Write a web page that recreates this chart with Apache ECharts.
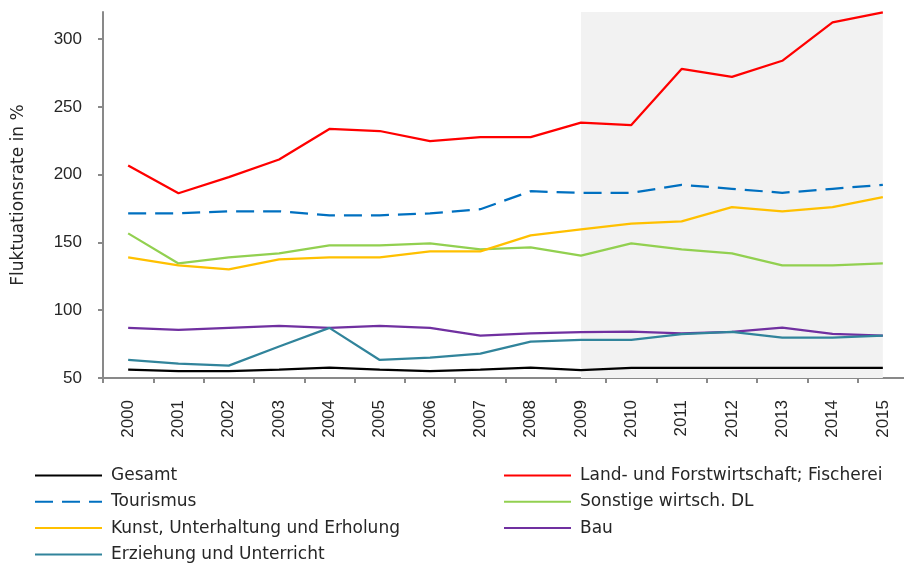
<!DOCTYPE html>
<html>
<head>
<meta charset="utf-8">
<script src="https://cdn.jsdelivr.net/npm/echarts@6/dist/echarts.min.js"></script>
<style>html,body{margin:0;padding:0;background:#fff;overflow:hidden;width:904px;height:564px}#c{width:912px;height:564px}</style>
</head>
<body>
<div id="c"></div>
<script>
const years = ['2000','2001','2002','2003','2004','2005','2006','2007','2008','2009','2010','2011','2012','2013','2014','2015'];
const yTicks = [50, 100, 150, 200, 250, 300];
const shadeFrom = '2009';
const shadeTo = '2015';
const gesamt = [56.2, 55.0, 55.0, 56.2, 57.6, 56.2, 55.0, 56.2, 57.6, 55.9, 57.4, 57.4, 57.4, 57.4, 57.4, 57.4];
const landForst = [206.8, 186.3, 198.2, 211.2, 233.7, 232.2, 224.8, 227.7, 227.7, 238.4, 236.6, 278.0, 272.1, 284.0, 312.3, 319.7];
const tourismus = [171.5, 171.5, 173.0, 173.0, 170.0, 170.0, 171.5, 174.5, 187.8, 186.5, 186.6, 192.5, 189.6, 186.6, 189.6, 192.5];
const sonstige = [156.7, 134.5, 139.0, 141.9, 147.9, 147.9, 149.3, 144.9, 146.4, 140.3, 149.3, 144.9, 141.9, 133.1, 133.1, 134.5];
const kunst = [139.0, 133.1, 130.1, 137.5, 139.0, 139.0, 143.4, 143.4, 155.2, 159.6, 163.9, 165.6, 176.0, 173.0, 176.0, 183.4];
const bau = [87.0, 85.5, 87.0, 88.5, 87.0, 88.5, 87.0, 81.3, 83.0, 83.8, 84.3, 83.0, 84.0, 87.2, 82.5, 81.3];
const erziehung = [63.3, 60.6, 59.1, 73.2, 87.0, 63.3, 65.0, 68.0, 76.8, 78.1, 78.1, 82.3, 84.0, 79.8, 79.8, 81.3];

const FONT = 'DejaVu Sans';
const NUMFONT = 'Liberation Sans';
const TXT = '#262626';
const AXC = '#898989';

function line(name, data, color, dashed) {
  return {
    name: name, type: 'line', data: data, symbol: 'none', smooth: false,
    lineStyle: { color: color, width: 2.25, type: dashed ? [18, 9] : 'solid' },
    itemStyle: { color: color },
    emphasis: { disabled: true }, z: 3
  };
}

const legendCommon = {
  orient: 'vertical', top: 467, itemWidth: 67, itemHeight: 14, itemGap: 9.3, padding: 0,
  height: 110,
  itemStyle: { opacity: 0 },
  textStyle: { fontSize: 17, lineHeight: 17, color: TXT, fontFamily: FONT, padding: [0, 0, 0, 4] }
};

const chart = echarts.init(document.getElementById('c'));
chart.setOption({
  animation: false,
  backgroundColor: '#fff',
  textStyle: { fontFamily: FONT },
  grid: { left: 103, width: 805, top: 12, bottom: 186, containLabel: false },
  xAxis: {
    type: 'category', data: years, boundaryGap: true,
    axisLine: { lineStyle: { color: AXC, width: 2 } },
    axisTick: { show: true, length: 5, lineStyle: { color: AXC, width: 2 } },
    axisLabel: { rotate: 90, margin: 22, fontSize: 17, color: TXT, fontFamily: NUMFONT, interval: 0 },
    splitLine: { show: false }
  },
  yAxis: {
    type: 'value', min: 50, max: 320, interval: 50,
    name: 'Fluktuationsrate in %', nameLocation: 'middle', nameGap: 76,
    nameTextStyle: { fontSize: 17, color: TXT, fontFamily: FONT },
    axisLine: { show: true, lineStyle: { color: AXC, width: 2 } },
    axisTick: { show: true, length: 5, lineStyle: { color: AXC, width: 2 }, customValues: yTicks },
    axisLabel: { margin: 21, fontSize: 17, color: TXT, fontFamily: NUMFONT, customValues: yTicks },
    splitLine: { show: false }
  },
  legend: [
    Object.assign({}, legendCommon, {
      left: 34,
      data: ['Gesamt', 'Tourismus', 'Kunst, Unterhaltung und Erholung', 'Erziehung und Unterricht']
    }),
    Object.assign({}, legendCommon, {
      left: 503,
      data: ['Land- und Forstwirtschaft; Fischerei', 'Sonstige wirtsch. DL', 'Bau']
    })
  ],
  series: [
    {
      name: '_shade', type: 'line', data: [], silent: true, z: 1,
      markArea: {
        silent: true,
        itemStyle: { color: '#F2F2F2' },
        data: [[{ xAxis: shadeFrom }, { xAxis: shadeTo }]]
      }
    },
    line('Gesamt', gesamt, '#000000'),
    line('Land- und Forstwirtschaft; Fischerei', landForst, '#FF0000'),
    line('Tourismus', tourismus, '#0070C0', true),
    line('Sonstige wirtsch. DL', sonstige, '#92D050'),
    line('Kunst, Unterhaltung und Erholung', kunst, '#FFC000'),
    line('Bau', bau, '#7030A0'),
    line('Erziehung und Unterricht', erziehung, '#31849B')
  ]
});
</script>
</body>
</html>
